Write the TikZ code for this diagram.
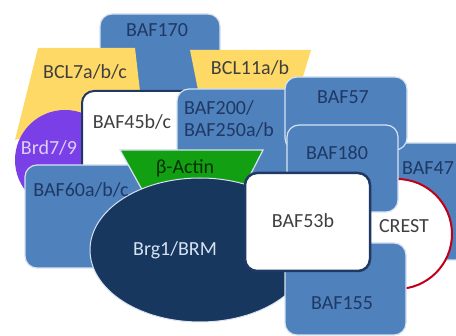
\documentclass[tikz,border=0pt]{standalone}
\usepackage{fontspec}
\setmainfont{Carlito}

\definecolor{bafblue}{HTML}{4F81BD}
\definecolor{bafedge}{HTML}{D6E2F2}
\definecolor{bafnavy}{HTML}{1F3864}
\definecolor{brgnavy}{HTML}{17375E}
\definecolor{bclyellow}{HTML}{FFD966}
\definecolor{brdviolet}{HTML}{7A3FE6}
\definecolor{actingreen}{HTML}{12A012}
\definecolor{crestred}{HTML}{C0001A}
\definecolor{textgray}{HTML}{3F3F3F}

\begin{document}
\begin{tikzpicture}[
  x=1pt, y=-1pt,
  bafbox/.style={fill=bafblue, draw=bafedge, line width=1.2pt, rounded corners=12pt},
  whitebox/.style={fill=white, draw=bafnavy, line width=2pt, rounded corners=12pt},
  bclpart/.style={fill=bclyellow},
  lbl/.style={font=\fontsize{20}{22}\selectfont, text=bafnavy, inner sep=0pt},
  darklbl/.style={lbl, text=textgray}
]
\useasboundingbox (0,0) rectangle (456,336);
\clip (0,0) rectangle (456,336);

% back layer
\draw[bafbox] (100,14) rectangle (220,92);
\fill[bclpart] (38,48) -- (135,48) -- (141,100) -- (15,140) -- cycle;
\fill[bclpart] (190,50) -- (311,50) -- (296,100) -- (200,100) -- cycle;
\fill[brdviolet] (65,160) circle[radius=50];
\draw[whitebox] (82,91) rectangle (200,200);
\draw[bafbox] (177,89) rectangle (305,215);
\draw[bafbox] (25,165) rectangle (150,268);
\draw[fill=actingreen, draw=bafedge, line width=1.2pt] (120,150) -- (263,150) -- (240,195) -- (145,195) -- cycle;
\draw[fill=brgnavy, draw=bafedge, line width=1pt] (200,250) ellipse[x radius=110, y radius=72];

% right side
\draw[bafbox] (392,143) rectangle (480,260);
\draw[fill=white, draw=crestred, line width=2pt] (397,234) circle[radius=55];
\draw[bafbox] (285,77) rectangle (407,150);
\draw[bafbox] (287,125) rectangle (398,212);
\draw[bafbox] (285,243) rectangle (406,335);
\draw[whitebox, line width=2.5pt] (245,173) rectangle (370,271);

% labels
\node[lbl] (baf170) at (157,30) {BAF170};
\node[darklbl] (bcl7) at (85,72) {BCL7a/b/c};
\node[darklbl] (bcl11) at (250,68) {BCL11a/b};
\node[lbl, text=brdviolet!25] (brd79) at (49,148) {Brd7/9};
\node[darklbl] (baf45) at (132,122) {BAF45b/c};
\node[lbl, align=left, anchor=west] (baf200) at (184,119) {BAF200/\\BAF250a/b};
\node[lbl, text=actingreen!30!black] (actin) at (185,168) {β-Actin};
\node[lbl] (baf60) at (81,190) {BAF60a/b/c};
\node[lbl, text=bafedge] (brg1) at (175,250) {Brg1/BRM};
\node[lbl] (baf57) at (343,97) {BAF57};
\node[lbl] (baf180) at (337,153) {BAF180};
\node[lbl, anchor=west] (baf47) at (402,168) {BAF47};
\node[darklbl] (crest) at (404,226) {CREST};
\node[lbl] (baf155) at (342,303) {BAF155};
\node[darklbl] (baf53b) at (303,221) {BAF53b};
\end{tikzpicture}
\end{document}
